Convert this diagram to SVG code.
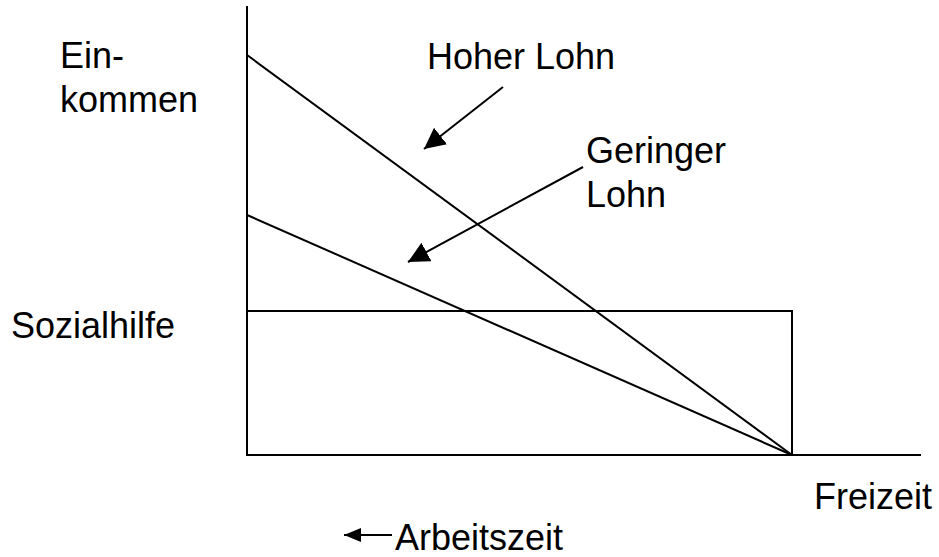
<svg xmlns="http://www.w3.org/2000/svg" width="939" height="557" viewBox="0 0 939 557">
<defs>
<style>
text{font-family:"Liberation Sans",Arial,sans-serif;font-size:36px;fill:#000}
.ln{stroke:#000;stroke-width:2;fill:none}
</style>
<marker id="ahb" viewBox="0 0 10 10" refX="10" refY="5" markerWidth="21" markerHeight="21" markerUnits="userSpaceOnUse" orient="auto">
<path d="M0,0 L10,5 L0,10 z" fill="#000"/>
</marker>
<marker id="ahs" viewBox="0 0 10 10" refX="10" refY="5" markerWidth="17" markerHeight="14" markerUnits="userSpaceOnUse" orient="auto" preserveAspectRatio="none">
<path d="M0,0 L10,5 L0,10 z" fill="#000"/>
</marker>
</defs>
<rect width="939" height="557" fill="#fff"/>
<g id="axes">
<line class="ln" x1="247" y1="6" x2="247" y2="455"/>
<line class="ln" x1="246" y1="455" x2="921" y2="455"/>
</g>
<g id="sozialhilfe-box">
<polyline class="ln" points="247,311 792,311 792,455"/>
</g>
<g id="connectors">
<line class="ln" x1="247" y1="55" x2="792" y2="455"/>
<line class="ln" x1="247" y1="215" x2="792" y2="455"/>
<line class="ln" x1="503" y1="87" x2="424" y2="149" marker-end="url(#ahb)"/>
<line class="ln" x1="583" y1="167" x2="408" y2="262" marker-end="url(#ahb)"/>
<line class="ln" x1="392" y1="535" x2="344" y2="535" marker-end="url(#ahs)"/>
</g>
<g id="label-einkommen">
<text x="60" y="68">Ein-</text>
<text x="60" y="112">kommen</text>
</g>
<g id="label-hoher-lohn"><text x="427" y="69">Hoher Lohn</text></g>
<g id="label-geringer-lohn">
<text x="586" y="163">Geringer</text>
<text x="586" y="207">Lohn</text>
</g>
<g id="label-sozialhilfe"><text x="11" y="338">Sozialhilfe</text></g>
<g id="label-freizeit"><text x="814" y="509">Freizeit</text></g>
<g id="label-arbeitszeit"><text x="395" y="550">Arbeitszeit</text></g>
</svg>
